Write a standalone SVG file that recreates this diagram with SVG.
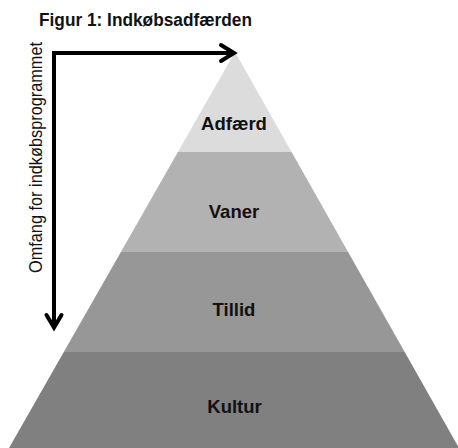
<svg xmlns="http://www.w3.org/2000/svg" width="458" height="448" viewBox="0 0 458 448">
<style>
.lbl{font-family:"Liberation Sans",Arial,sans-serif;font-weight:bold;font-size:18.5px;fill:#111;text-anchor:middle}
.title{font-family:"Liberation Sans",Arial,sans-serif;font-weight:bold;font-size:17.5px;fill:#111}
.axis{font-family:"Liberation Sans",Arial,sans-serif;font-size:18px;fill:#111}
.ln{fill:none;stroke:#000;stroke-width:4;stroke-linecap:butt;stroke-linejoin:miter}
.hd{fill:none;stroke:#000;stroke-width:4;stroke-linecap:round;stroke-linejoin:miter}
</style>
<rect width="458" height="448" fill="#fff"/>
<text class="title" x="39" y="25.5" textLength="213" lengthAdjust="spacingAndGlyphs">Figur 1: Indkøbsadfærden</text>
<g id="adfaerd">
<polygon points="235,52 291.6,152 177.9,152" fill="#dcdcdc"/>
<text class="lbl" x="234" y="130">Adfærd</text>
</g>
<g id="vaner">
<polygon points="177.9,152 291.6,152 348.1,252 120.9,252" fill="#b2b2b2"/>
<text class="lbl" x="234" y="218">Vaner</text>
</g>
<g id="tillid">
<polygon points="120.9,252 348.1,252 404.7,352 63.8,352" fill="#979797"/>
<text class="lbl" x="234" y="315.5">Tillid</text>
</g>
<g id="kultur">
<polygon points="63.8,352 404.7,352 459,448 9,448" fill="#808080"/>
<text class="lbl" x="234.5" y="413">Kultur</text>
</g>
<g id="connectors">
<path class="ln" d="M54,327 V53 H233"/>
<path class="hd" d="M221,45 L234,53 L221,61"/>
<path class="hd" d="M46.5,315 L54,327.5 L61.5,315"/>
</g>
<text class="axis" transform="translate(42,273) rotate(-90)" textLength="231" lengthAdjust="spacingAndGlyphs">Omfang for indkøbsprogrammet</text>
</svg>
